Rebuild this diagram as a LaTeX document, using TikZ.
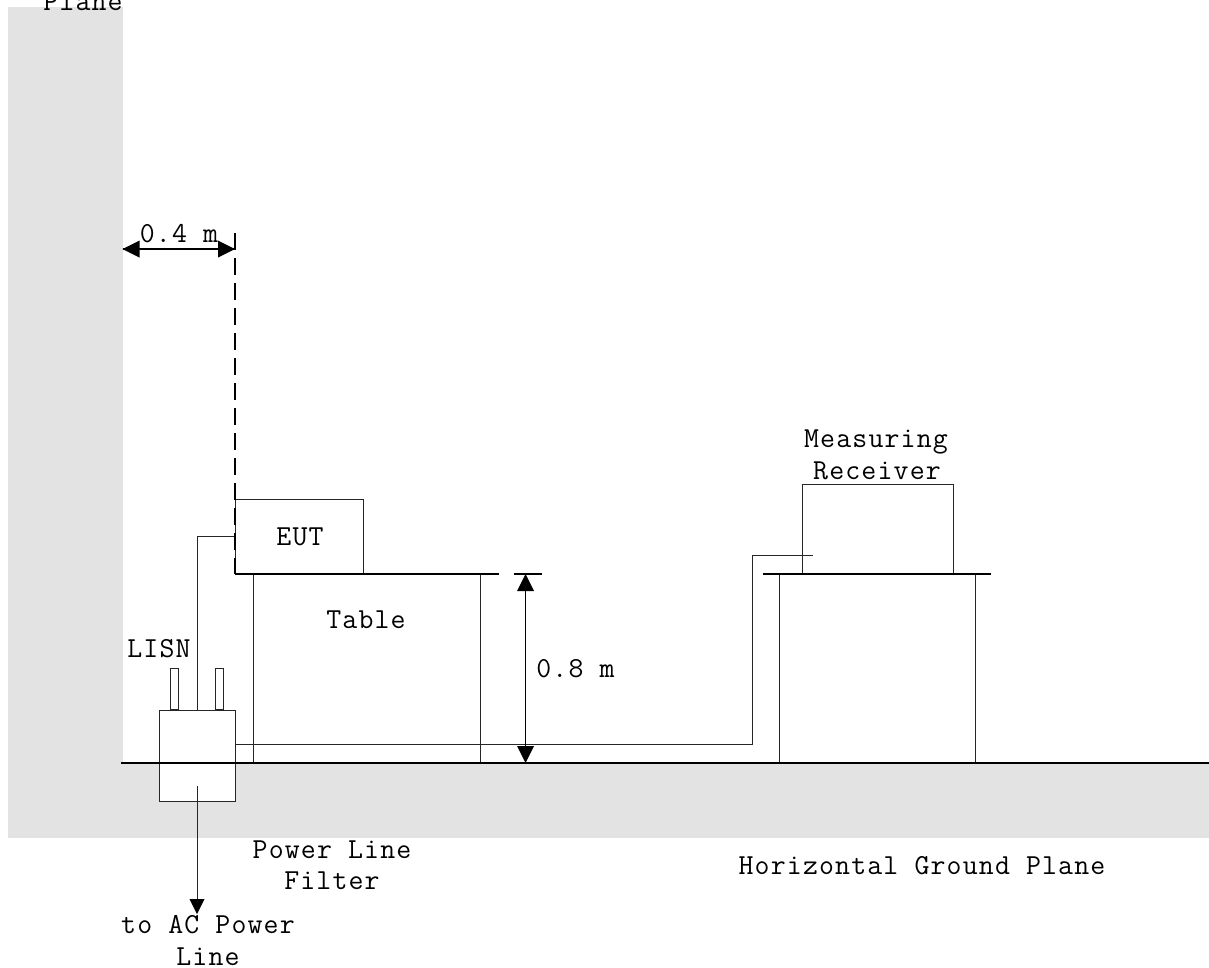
\documentclass[tikz,border=0pt]{standalone}
\usepackage{fontspec}
\setmonofont[LetterSpace=4]{Latin Modern Mono}
\tikzset{
  x=1pt,y=-1pt,
  lbl/.style={font=\fontsize{29}{32}\selectfont\ttfamily,inner sep=0pt,anchor=base,text=black},
  ln/.style={draw=black!85,line width=0.9pt},
  dim/.style={draw=black,line width=1.5pt},
  plane/.style={fill=black!11,draw=none},
}
\begin{document}
\begin{tikzpicture}
\useasboundingbox (0,0) rectangle (1209,967);
% ground planes
\fill[plane] (8,7) rectangle (122.5,838);
\fill[plane] (122.5,763) rectangle (1209,838);
% LISN body
\node[ln,fill=white,minimum width=75.5pt,minimum height=91pt,inner sep=0pt,anchor=north west] (lisn) at (159,710) {};
\node[ln,minimum width=8pt,minimum height=41pt,inner sep=0pt,anchor=south] (tabA) at (174,710) {};
\node[ln,minimum width=8pt,minimum height=41pt,inner sep=0pt,anchor=south] (tabB) at (219.5,710) {};
% table 1
\node[ln,minimum width=227pt,minimum height=189pt,inner sep=0pt,anchor=north west] (table) at (253,574) {};
% EUT
\node[ln,minimum width=128pt,minimum height=75.5pt,inner sep=0pt,anchor=north west] (eut) at (235,498.5) {};
% table 2 and receiver
\node[ln,minimum width=196pt,minimum height=189pt,inner sep=0pt,anchor=north west] (table2) at (779,574) {};
\node[ln,minimum width=150.5pt,minimum height=90.5pt,inner sep=0pt,anchor=north west] (recv) at (802,483.5) {};
% lines
\coordinate (gl) at (121,763); \coordinate (gr) at (1209,763);
\draw[draw=black,line width=1.3pt] (gl) -- (gr);
\coordinate (t1r) at (499,574);
\draw[draw=black,line width=1.3pt] (235,574) -- (t1r);
\draw[draw=black,line width=1.3pt] (763,574) -- (991,574);
% cables
\coordinate (c1) at (197,710); \coordinate (c2) at (197,536.5); \coordinate (c3) at (235,536.5);
\draw[ln] (c1) -- (c2) -- (c3);
\coordinate (c4) at (235,744.5); \coordinate (c5) at (752.5,744.5); \coordinate (c6) at (752.5,555); \coordinate (c7) at (813,555);
\draw[ln] (c4) -- (c5) -- (c6) -- (c7);
\coordinate (p1) at (197,786); \coordinate (p2) at (197,914); \coordinate (p3) at (197,899);
\draw[ln] (p1) -- (p3);
\fill (p2) -- (189.5,899) -- (204.5,899) -- cycle;
% reference line
\coordinate (rt) at (235,233); \coordinate (rb) at (235,574);
\draw[draw=black,line width=1.6pt,dash pattern=on 16.6pt off 8.4pt] (rt) -- (rb);
% dimensions
\coordinate (d1) at (122.5,249); \coordinate (d2) at (235,249);
\draw[dim] (d1) -- (d2);
\fill (d1) -- (139.5,240.5) -- (139.5,257.5) -- cycle;
\fill (d2) -- (218,240.5) -- (218,257.5) -- cycle;
\coordinate (d3) at (525.5,574); \coordinate (d4) at (525.5,763);
\draw[dim] (d3) -- (d4);
\fill (d3) -- (517,591) -- (534,591) -- cycle;
\fill (d4) -- (517,746) -- (534,746) -- cycle;
\draw[draw=black,line width=1.5pt] (514,574) -- (541.5,574);
% labels
\node[lbl] (tplane) at (83,10) {Plane};
\node[lbl] (t04) at (179,242) {0.4 m};
\node[lbl] (tmeas) at (876,447) {Measuring};
\node[lbl] (trecv) at (877,479) {Receiver};
\node[lbl] (teut) at (300,545) {EUT};
\node[lbl] (ttable) at (366,628) {Table};
\node[lbl] (t08) at (575.5,677) {0.8 m};
\node[lbl] (tlisn) at (159,657) {LISN};
\node[lbl] (tpow) at (332,858) {Power Line};
\node[lbl] (tfil) at (332,889) {Filter};
\node[lbl] (thor) at (922,874) {Horizontal Ground Plane};
\node[lbl] (tac) at (208,933) {to AC Power};
\node[lbl] (tline) at (208,965) {Line};
\end{tikzpicture}
\end{document}
